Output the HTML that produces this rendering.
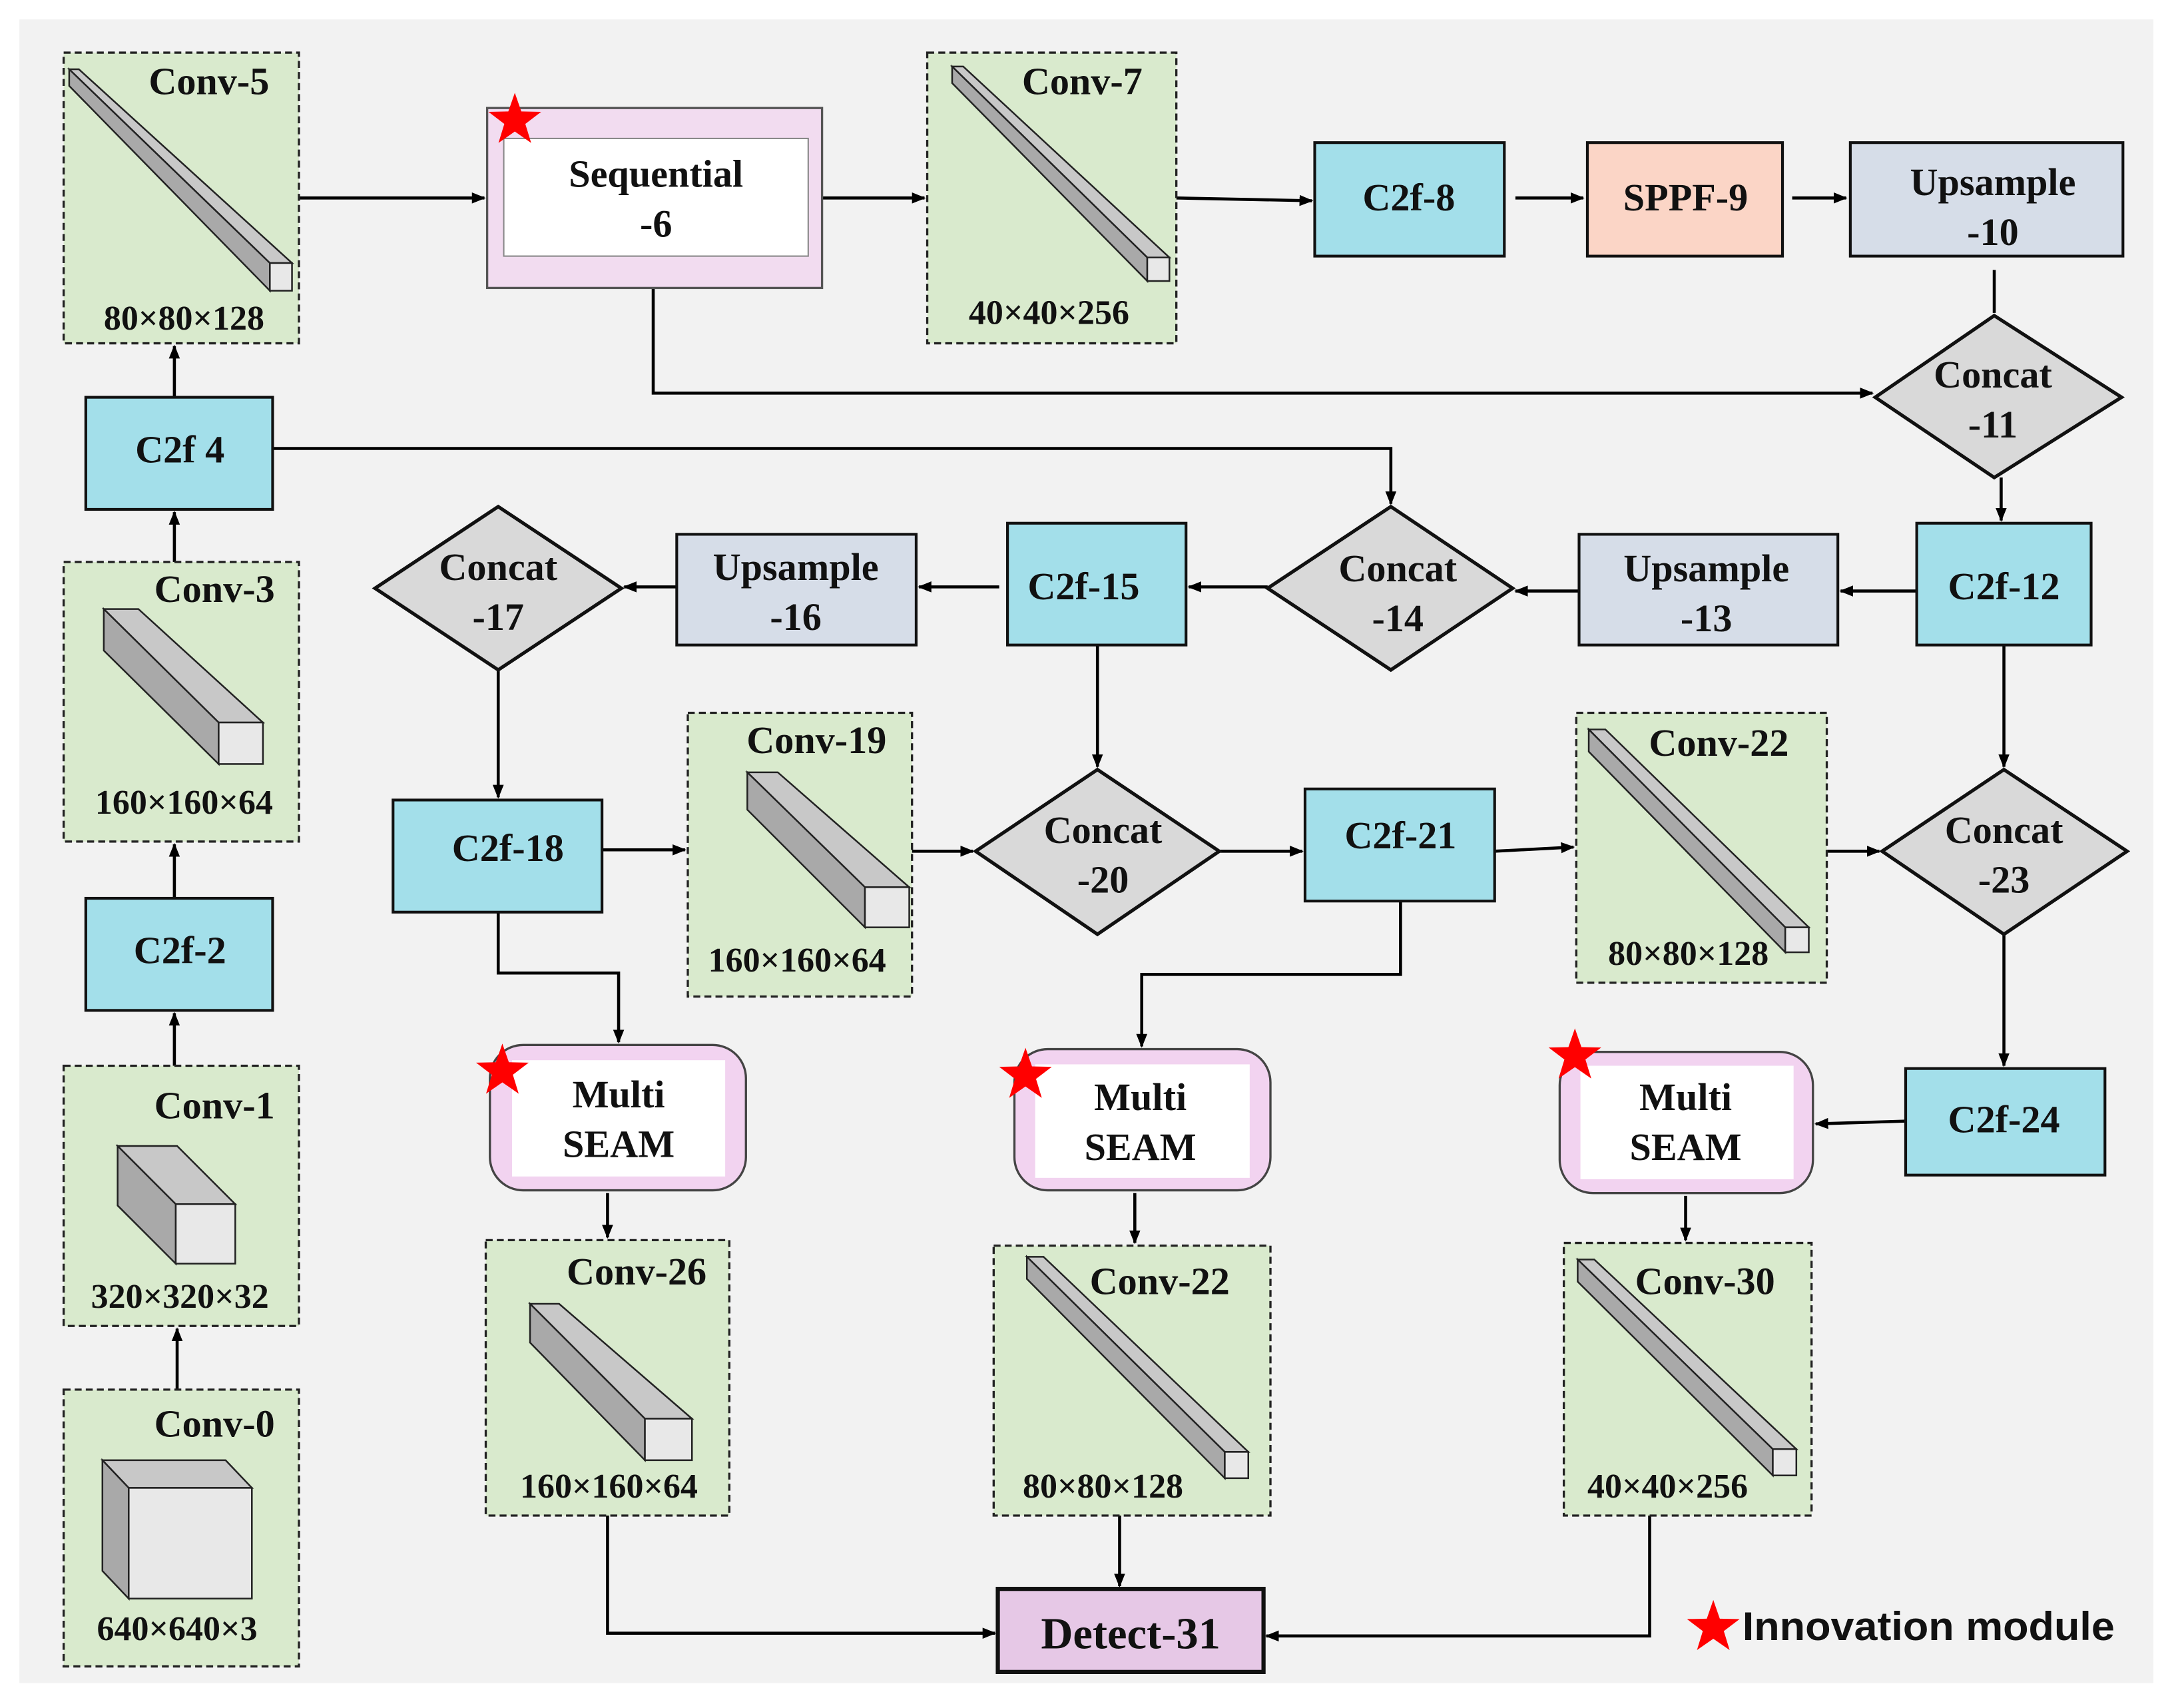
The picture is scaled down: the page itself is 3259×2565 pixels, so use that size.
<!DOCTYPE html>
<html><head><meta charset="utf-8">
<style>
html,body{margin:0;padding:0;background:#fff;}
svg{display:block;}
text{font-family:"Liberation Serif",serif;font-weight:bold;fill:#111;text-anchor:middle;}
</style></head>
<body>
<svg width="3259" height="2565" viewBox="0 0 1568 1234" xmlns="http://www.w3.org/2000/svg">
<defs>
<marker id="a" markerWidth="10" markerHeight="10" refX="9" refY="5" orient="auto" markerUnits="userSpaceOnUse">
<path d="M0,1 L10,5 L0,9 z" fill="#000"/></marker>
<polygon id="star" points="0,-20 4.7,-6.5 19,-6.2 7.6,2.5 11.8,16.2 0,8 -11.8,16.2 -7.6,2.5 -19,-6.2 -4.7,-6.5" fill="#f00"/>
</defs>
<rect x="0" y="0" width="1568" height="1234" fill="#fff"/>
<rect x="14" y="14" width="1542" height="1202" fill="#f2f2f2"/>

<g stroke="#000" stroke-width="2.2" fill="none">
<path d="M216,143H350" marker-end="url(#a)"/>
<path d="M594,143H668" marker-end="url(#a)"/>
<path d="M850,143L948,145" marker-end="url(#a)"/>
<path d="M1095,143H1144" marker-end="url(#a)"/>
<path d="M1295,143H1334" marker-end="url(#a)"/>
<path d="M1441,195V226"/>
<path d="M472,206V284H1353" marker-end="url(#a)"/>
<path d="M1446,345V376" marker-end="url(#a)"/>
<path d="M126,287V250" marker-end="url(#a)"/>
<path d="M197,324H1005V364" marker-end="url(#a)"/>
<path d="M1385,427H1330" marker-end="url(#a)"/>
<path d="M1141,427H1095" marker-end="url(#a)"/>
<path d="M916,424H859" marker-end="url(#a)"/>
<path d="M722,424H664" marker-end="url(#a)"/>
<path d="M489,424H451" marker-end="url(#a)"/>
<path d="M360,484V576" marker-end="url(#a)"/>
<path d="M793,466V554" marker-end="url(#a)"/>
<path d="M1448,466V554" marker-end="url(#a)"/>
<path d="M435,614H495" marker-end="url(#a)"/>
<path d="M659,615H703" marker-end="url(#a)"/>
<path d="M881,615H941" marker-end="url(#a)"/>
<path d="M1080,615L1137,612" marker-end="url(#a)"/>
<path d="M1320,615H1358" marker-end="url(#a)"/>
<path d="M1448,675V770" marker-end="url(#a)"/>
<path d="M1377,810L1312,812" marker-end="url(#a)"/>
<path d="M360,659V703H447V753" marker-end="url(#a)"/>
<path d="M1012,651V704H825V756" marker-end="url(#a)"/>
<path d="M439,862V894" marker-end="url(#a)"/>
<path d="M820,862V898" marker-end="url(#a)"/>
<path d="M1218,864V896" marker-end="url(#a)"/>
<path d="M439,1095V1180H719" marker-end="url(#a)"/>
<path d="M809,1095V1146" marker-end="url(#a)"/>
<path d="M1192,1095V1182H915" marker-end="url(#a)"/>
<path d="M126,406V370" marker-end="url(#a)"/>
<path d="M126,649V610" marker-end="url(#a)"/>
<path d="M126,770V732" marker-end="url(#a)"/>
<path d="M128,1004V960" marker-end="url(#a)"/>
</g>

<g fill="#d9eacd" stroke="#222" stroke-width="1.6" stroke-dasharray="5,3">
<rect x="46" y="38" width="170" height="210"/>
<rect x="670" y="38" width="180" height="210"/>
<rect x="46" y="406" width="170" height="202"/>
<rect x="46" y="770" width="170" height="188"/>
<rect x="46" y="1004" width="170" height="200"/>
<rect x="497" y="515" width="162" height="205"/>
<rect x="1139" y="515" width="181" height="195"/>
<rect x="351" y="896" width="176" height="199"/>
<rect x="718" y="900" width="200" height="195"/>
<rect x="1130" y="898" width="179" height="197"/>
</g>

<g stroke="#222" stroke-width="1.2">
<polygon points="50,50 57,50 211,190 195,190" fill="#c8c8c8"/>
<polygon points="50,50 195,190 195,210 50,62" fill="#a9a9a9"/>
<rect x="195" y="190" width="16" height="20" fill="#e8e8e8"/>
<polygon points="688,48 696,48 845,186 829,186" fill="#c8c8c8"/>
<polygon points="688,48 829,186 829,203 688,60" fill="#a9a9a9"/>
<rect x="829" y="186" width="16" height="17" fill="#e8e8e8"/>
<polygon points="75,440 100,440 190,522 158,522" fill="#c8c8c8"/>
<polygon points="75,440 158,522 158,552 75,470" fill="#a9a9a9"/>
<rect x="158" y="522" width="32" height="30" fill="#e8e8e8"/>
<polygon points="540,558 562,558 657,641 625,641" fill="#c8c8c8"/>
<polygon points="540,558 625,641 625,670 540,585" fill="#a9a9a9"/>
<rect x="625" y="641" width="32" height="29" fill="#e8e8e8"/>
<polygon points="1148,527 1160,527 1307,670 1290,670" fill="#c8c8c8"/>
<polygon points="1148,527 1290,670 1290,688 1148,543" fill="#a9a9a9"/>
<rect x="1290" y="670" width="17" height="18" fill="#e8e8e8"/>
<polygon points="383,942 404,942 500,1025 466,1025" fill="#c8c8c8"/>
<polygon points="383,942 466,1025 466,1055 383,970" fill="#a9a9a9"/>
<rect x="466" y="1025" width="34" height="30" fill="#e8e8e8"/>
<polygon points="742,908 754,908 902,1049 885,1049" fill="#c8c8c8"/>
<polygon points="742,908 885,1049 885,1068 742,924" fill="#a9a9a9"/>
<rect x="885" y="1049" width="17" height="19" fill="#e8e8e8"/>
<polygon points="1140,910 1152,910 1298,1047 1281,1047" fill="#c8c8c8"/>
<polygon points="1140,910 1281,1047 1281,1066 1140,926" fill="#a9a9a9"/>
<rect x="1281" y="1047" width="17" height="19" fill="#e8e8e8"/>
<polygon points="85,828 128,828 170,870 127,870" fill="#c8c8c8"/>
<polygon points="85,828 127,870 127,913 85,871" fill="#a9a9a9"/>
<rect x="127" y="870" width="43" height="43" fill="#e8e8e8"/>
<polygon points="74,1055 163,1055 182,1075 93,1075" fill="#c8c8c8"/>
<polygon points="74,1055 93,1075 93,1155 74,1135" fill="#a9a9a9"/>
<rect x="93" y="1075" width="89" height="80" fill="#e8e8e8"/>
</g>

<g stroke="#111" stroke-width="2">
<rect x="950" y="103" width="137" height="82" fill="#a3dfea"/>
<rect x="1147" y="103" width="141" height="82" fill="#fbd5c6"/>
<rect x="1337" y="103" width="197" height="82" fill="#d6dde8"/>
<rect x="62" y="287" width="135" height="81" fill="#a3dfea"/>
<rect x="62" y="649" width="135" height="81" fill="#a3dfea"/>
<rect x="489" y="386" width="173" height="80" fill="#d6dde8"/>
<rect x="728" y="378" width="129" height="88" fill="#a3dfea"/>
<rect x="1141" y="386" width="187" height="80" fill="#d6dde8"/>
<rect x="1385" y="378" width="126" height="88" fill="#a3dfea"/>
<rect x="284" y="578" width="151" height="81" fill="#a3dfea"/>
<rect x="943" y="570" width="137" height="81" fill="#a3dfea"/>
<rect x="1377" y="772" width="144" height="77" fill="#a3dfea"/>
</g>
<g stroke="#111" stroke-width="2.5" fill="#d9d9d9">
<polygon points="1355,287 1441,228 1533,287 1441,345"/>
<polygon points="271,425 360,366 449,425 360,484"/>
<polygon points="916,425 1005,366 1093,425 1005,484"/>
<polygon points="705,615 793,556 881,615 793,675"/>
<polygon points="1360,615 1448,556 1537,615 1448,675"/>
</g>

<rect x="352" y="78" width="242" height="130" fill="#f2dcf0" stroke="#555" stroke-width="1.6"/>
<rect x="364" y="100" width="220" height="85" fill="#fff" stroke="#888" stroke-width="1"/>
<g stroke="#444" stroke-width="1.6" fill="#f2d3f0">
<rect x="354" y="755" width="185" height="105" rx="24"/>
<rect x="733" y="758" width="185" height="102" rx="24"/>
<rect x="1127" y="760" width="183" height="102" rx="24"/>
</g>
<g fill="#fff">
<rect x="370" y="766" width="154" height="84"/>
<rect x="748" y="769" width="155" height="82"/>
<rect x="1142" y="770" width="154" height="82"/>
</g>
<rect x="721" y="1148" width="192" height="60" fill="#e6c8e6" stroke="#111" stroke-width="3"/>

<use href="#star" x="372" y="87"/>
<use href="#star" x="363" y="774"/>
<use href="#star" x="741" y="777"/>
<use href="#star" x="1138" y="763"/>
<use href="#star" x="1238" y="1176"/>

<g font-size="28">
<text x="1018" y="152">C2f-8</text>
<text x="1218" y="152">SPPF-9</text>
<text x="1440" y="141">Upsample</text><text x="1440" y="177">-10</text>
<text x="1440" y="280">Concat</text><text x="1440" y="316">-11</text>
<text x="130" y="334">C2f 4</text>
<text x="130" y="696">C2f-2</text>
<text x="360" y="419">Concat</text><text x="360" y="455">-17</text>
<text x="575" y="419">Upsample</text><text x="575" y="455">-16</text>
<text x="783" y="433">C2f-15</text>
<text x="1010" y="420">Concat</text><text x="1010" y="456">-14</text>
<text x="1233" y="420">Upsample</text><text x="1233" y="456">-13</text>
<text x="1448" y="433">C2f-12</text>
<text x="367" y="622">C2f-18</text>
<text x="797" y="609">Concat</text><text x="797" y="645">-20</text>
<text x="1012" y="613">C2f-21</text>
<text x="1448" y="609">Concat</text><text x="1448" y="645">-23</text>
<text x="1448" y="818">C2f-24</text>
<text x="474" y="135">Sequential</text><text x="474" y="171">-6</text>
<text x="447" y="800">Multi</text><text x="447" y="836">SEAM</text>
<text x="824" y="802">Multi</text><text x="824" y="838">SEAM</text>
<text x="1218" y="802">Multi</text><text x="1218" y="838">SEAM</text>
<text x="151" y="68">Conv-5</text>
<text x="782" y="68">Conv-7</text>
<text x="155" y="435">Conv-3</text>
<text x="155" y="808">Conv-1</text>
<text x="155" y="1038">Conv-0</text>
<text x="590" y="544">Conv-19</text>
<text x="1242" y="546">Conv-22</text>
<text x="460" y="928">Conv-26</text>
<text x="838" y="935">Conv-22</text>
<text x="1232" y="935">Conv-30</text>
<text x="817" y="1191" font-size="32">Detect-31</text>
</g>
<g font-size="25">
<text x="133" y="238">80×80×128</text>
<text x="758" y="234">40×40×256</text>
<text x="133" y="588">160×160×64</text>
<text x="130" y="945">320×320×32</text>
<text x="128" y="1185">640×640×3</text>
<text x="576" y="702">160×160×64</text>
<text x="1220" y="697">80×80×128</text>
<text x="440" y="1082">160×160×64</text>
<text x="797" y="1082">80×80×128</text>
<text x="1205" y="1082">40×40×256</text>
</g>
<text x="1259" y="1185" font-size="29" textLength="269" lengthAdjust="spacingAndGlyphs" style="font-family:'Liberation Sans',sans-serif;text-anchor:start">Innovation module</text>
</svg>
</body></html>
